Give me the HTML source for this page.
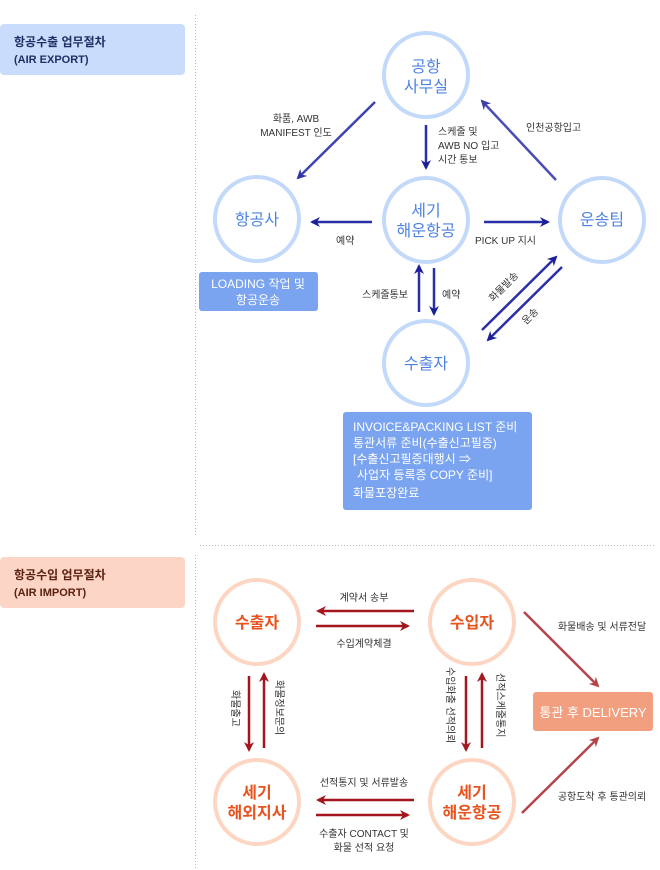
<!DOCTYPE html>
<html><head><meta charset="utf-8"><style>
body{margin:0;background:#fff;width:660px;height:870px;overflow:hidden;font-family:"Liberation Sans","Noto Sans CJK KR",sans-serif;}
svg{position:absolute;left:0;top:0}
text{font-family:"Liberation Sans","Noto Sans CJK KR",sans-serif}
</style></head><body>
<svg width="660" height="870" viewBox="0 0 660 870">
<defs>
<marker id="ab" markerWidth="10" markerHeight="10" refX="8" refY="5" orient="auto" markerUnits="userSpaceOnUse"><path d="M0,0 L10,5 L0,10 L3,5z" fill="#1c1f9a"/></marker>
<marker id="ar" markerWidth="10" markerHeight="10" refX="8" refY="5" orient="auto" markerUnits="userSpaceOnUse"><path d="M0,0 L10,5 L0,10 L3,5z" fill="#a3161e"/></marker>
</defs>
<rect x="0" y="24" width="185" height="51" rx="4" fill="#c9dcfb"/>
<text x="14" y="46" font-size="12" font-weight="bold" fill="#1e2f66">항공수출 업무절차</text>
<text x="14" y="63" font-size="11" font-weight="bold" fill="#1e2f66">(AIR EXPORT)</text>
<rect x="0" y="557" width="185" height="51" rx="4" fill="#fdd5c6"/>
<text x="14" y="579" font-size="12" font-weight="bold" fill="#5a2010">항공수입 업무절차</text>
<text x="14" y="596" font-size="11" font-weight="bold" fill="#5a2010">(AIR IMPORT)</text>
<line x1="195.5" y1="15" x2="195.5" y2="535" stroke="#bbb" stroke-dasharray="1,2"/>
<line x1="200" y1="545.5" x2="655" y2="545.5" stroke="#bbb" stroke-dasharray="1,2"/>
<line x1="195.5" y1="555" x2="195.5" y2="870" stroke="#bbb" stroke-dasharray="1,2"/>
<g fill="none" stroke="#c3d9fa" stroke-width="4">
<circle cx="426" cy="75" r="42"/><circle cx="257" cy="219" r="42"/><circle cx="426" cy="220" r="42"/><circle cx="602" cy="220" r="42"/><circle cx="426" cy="363" r="42"/>
</g>
<g fill="#4d83e0" font-size="16" text-anchor="middle">
<text x="426" y="72">공항</text><text x="426" y="92">사무실</text>
<text x="257" y="225">항공사</text>
<text x="426" y="216">세기</text><text x="426" y="236">해운항공</text>
<text x="602" y="225">운송팀</text>
<text x="426" y="369">수출자</text>
</g>
<g stroke="#2a2fa8" stroke-width="2.5">
<line x1="375" y1="102" x2="298" y2="178" marker-end="url(#ab)" opacity=".9"/>
<line x1="426" y1="125" x2="426" y2="168" marker-end="url(#ab)"/>
<line x1="372" y1="222" x2="312" y2="222" marker-end="url(#ab)"/>
<line x1="484" y1="222" x2="548" y2="222" marker-end="url(#ab)"/>
<line x1="556" y1="180" x2="482" y2="101" marker-end="url(#ab)" opacity=".85"/>
<line x1="419" y1="312" x2="419" y2="266" marker-end="url(#ab)"/>
<line x1="434" y1="268" x2="434" y2="314" marker-end="url(#ab)"/>
<line x1="482" y1="330" x2="556" y2="257" marker-end="url(#ab)"/>
<line x1="562" y1="267" x2="488" y2="340" marker-end="url(#ab)"/>
</g>
<g font-size="10" fill="#333">
<text x="296" y="122" text-anchor="middle">화품, AWB</text>
<text x="296" y="136" text-anchor="middle">MANIFEST 인도</text>
<text x="438" y="135">스케줄 및</text><text x="438" y="149">AWB NO 입고</text><text x="438" y="163">시간 통보</text>
<text x="526" y="131">인천공항입고</text>
<text x="336" y="244">예약</text>
<text x="475" y="244">PICK UP 지시</text>
<text x="362" y="298">스케줄통보</text>
<text x="442" y="298">예약</text>
<text transform="translate(493,302) rotate(-45)">화물발송</text>
<text transform="translate(526,325) rotate(-45)">운송</text>
</g>
<rect x="199" y="272" width="119" height="39" rx="3" fill="#7aa3f0"/>
<g fill="#fff" font-size="12" text-anchor="middle"><text x="258" y="288">LOADING 작업 및</text><text x="258" y="304">항공운송</text></g>
<rect x="343" y="412" width="189" height="98" rx="3" fill="#7aa3f0"/>
<g fill="#fff" font-size="12"><text x="353" y="431">INVOICE&amp;PACKING LIST 준비</text><text x="353" y="447">통관서류 준비(수출신고필증)</text><text x="353" y="463">[수출신고필증대행시 ⇒</text><text x="357" y="479">사업자 등록증 COPY 준비]</text><text x="353" y="497">화물포장완료</text></g>
<g fill="none" stroke="#fcd6c2" stroke-width="4">
<circle cx="257" cy="622" r="42"/><circle cx="472" cy="622" r="42"/><circle cx="257" cy="802" r="42"/><circle cx="472" cy="802" r="42"/>
</g>
<g fill="#e8531f" font-size="16" text-anchor="middle" font-weight="bold">
<text x="257" y="628">수출자</text>
<text x="472" y="628">수입자</text>
<text x="257" y="798">세기</text><text x="257" y="818">해외지사</text>
<text x="472" y="798">세기</text><text x="472" y="818">해운항공</text>
</g>
<g stroke="#a3161e" stroke-width="2.5">
<line x1="414" y1="611" x2="318" y2="611" marker-end="url(#ar)"/>
<line x1="316" y1="626" x2="408" y2="626" marker-end="url(#ar)"/>
<line x1="249" y1="676" x2="249" y2="750" marker-end="url(#ar)"/>
<line x1="264" y1="748" x2="264" y2="674" marker-end="url(#ar)"/>
<line x1="466" y1="676" x2="466" y2="750" marker-end="url(#ar)"/>
<line x1="482" y1="748" x2="482" y2="674" marker-end="url(#ar)"/>
<line x1="414" y1="800" x2="318" y2="800" marker-end="url(#ar)"/>
<line x1="316" y1="815" x2="408" y2="815" marker-end="url(#ar)"/>
<line x1="524" y1="612" x2="598" y2="686" marker-end="url(#ar)" opacity=".8"/>
<line x1="522" y1="813" x2="598" y2="738" marker-end="url(#ar)" opacity=".8"/>
</g>
<g font-size="10" fill="#333" text-anchor="middle">
<text x="364" y="601">계약서 송부</text>
<text x="364" y="647">수입계약체결</text>
<text x="364" y="786">선적통지 및 서류발송</text>
<text x="364" y="837">수출자 CONTACT 및</text><text x="364" y="851">화물 선적 요청</text>
<text x="602" y="630">화물배송 및 서류전달</text>
<text x="602" y="800">공항도착 후 통관의뢰</text>
</g>
<g font-size="10" fill="#333">
<text transform="translate(232,690) rotate(90)">화물출고</text>
<text transform="translate(276,680) rotate(90)">화물정보문의</text>
<text transform="translate(447,667) rotate(90)">수입화출 선적의뢰</text>
<text transform="translate(497,673) rotate(90)">선적스케줄통지</text>
</g>
<rect x="533" y="692" width="120" height="39" rx="3" fill="#f29f80"/>
<text x="593" y="717" font-size="13" fill="#fff" text-anchor="middle">통관 후 DELIVERY</text>
</svg>
</body></html>
